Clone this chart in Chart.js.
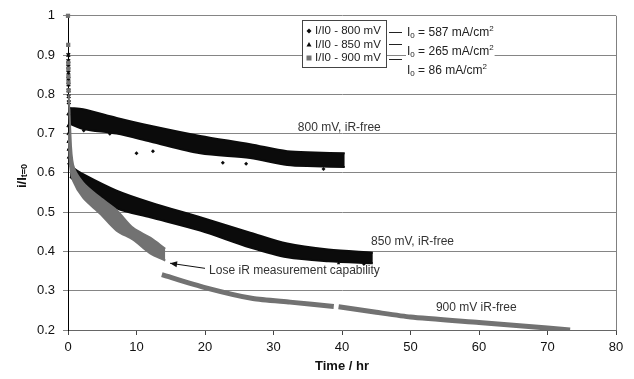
<!DOCTYPE html>
<html><head><meta charset="utf-8">
<script src="https://cdn.jsdelivr.net/npm/chart.js@4.4.1/dist/chart.umd.min.js"></script>
<style>html,body{margin:0;padding:0;background:#fff}</style>
</head><body>
<canvas id="c" width="634" height="379"></canvas>
<script>
// ---- data ----
const xTickValues = [0, 10, 20, 30, 40, 50, 60, 70, 80];
const yTickValues = [0.2, 0.3, 0.4, 0.5, 0.6, 0.7, 0.8, 0.9, 1];

// 800 mV band (upper / lower edge of dense scatter)
const time800 = [0.3, 2.2, 7.1, 12, 19.3, 26.6, 32, 36, 40.4];
const upper800 = [0.765, 0.762, 0.74, 0.72, 0.694, 0.673, 0.655, 0.652, 0.65];
const lower800 = [0.725, 0.712, 0.70, 0.68, 0.65, 0.638, 0.62, 0.617, 0.615];
const startTime800 = [0.05, 0.05, 0.05, 0.06, 0.06, 0.07, 0.08, 0.1, 0.12];
const start800 = [0.90, 0.885, 0.87, 0.855, 0.84, 0.825, 0.81, 0.795, 0.78];
const outlierTime800 = [2.3, 6.1, 10, 12.4, 22.6, 26, 37.3];
const outlier800 = [0.708, 0.70, 0.65, 0.655, 0.626, 0.623, 0.61];

// 850 mV band
const time850 = [0.3, 2.2, 7.1, 12, 19.3, 26.6, 32, 38, 44.5];
const upper850 = [0.618, 0.597, 0.555, 0.525, 0.487, 0.448, 0.42, 0.405, 0.397];
const lower850 = [0.59, 0.562, 0.51, 0.487, 0.453, 0.41, 0.385, 0.375, 0.37];
const startTime850 = [0.08, 0.08, 0.1, 0.1, 0.12, 0.15, 0.2];
const start850 = [0.75, 0.72, 0.70, 0.68, 0.66, 0.64, 0.625];
const outlierTime850 = [6.1, 39.5, 43.2];
const outlier850 = [0.504, 0.37, 0.368];

// 900 mV, before losing iR measurement (band) and after (thin line)
const time900a = [0.1, 0.3, 0.75, 2.2, 4.7, 7.1, 9.5, 12, 14.2];
const upper900a = [0.80, 0.72, 0.62, 0.575, 0.537, 0.505, 0.46, 0.435, 0.407];
const lower900a = [0.70, 0.62, 0.58, 0.537, 0.496, 0.453, 0.43, 0.395, 0.377];
const startTime900 = [0, 0.03, 0.04, 0.05, 0.06, 0.07, 0.09];
const start900 = [1.0, 0.926, 0.88, 0.865, 0.845, 0.83, 0.81];
const time900b = [13.7, 20, 27, 32.4, 38.8, 39.1, 39.5, 45, 50, 60, 70, 73.3];
const value900b = [0.341, 0.308, 0.28, 0.271, 0.26, null, 0.259, 0.245, 0.233, 0.219, 0.205, 0.2];

const seriesNames = ['I/I0 - 800 mV', 'I/I0 - 850 mV', 'I/I0 - 900 mV'];
const currentLabels = ['587', '265', '86'];

const BLACK = '#0b0b0b', GREY = '#727272';
const pts = (xs, ys) => xs.map((x, i) => ({x, y: ys[i]}));

const bandPair = (xs, hi, lo, color, ord) => [
  {data: pts(xs, hi), showLine: true, borderColor: color, borderWidth: 2, pointRadius: 0, fill: false, order: ord, tension: 0.3},
  {data: pts(xs, lo), showLine: true, borderColor: color, borderWidth: 2, pointRadius: 0, backgroundColor: color, fill: '-1', order: ord, tension: 0.3}
];

const datasets = [
  ...bandPair(time800, upper800, lower800, BLACK, 3),
  ...bandPair(time850, upper850, lower850, BLACK, 3),
  ...bandPair(time900a, upper900a, lower900a, GREY, 1),
  {data: pts(time900b, value900b), showLine: true, spanGaps: false, borderColor: GREY, borderWidth: 5, pointRadius: 0, fill: false, order: 1, tension: 0.2},
  {data: pts(startTime800, start800), showLine: false, clip: false, pointStyle: 'crossRot', pointRadius: 2.5, borderWidth: 1.5, borderColor: BLACK, backgroundColor: BLACK, order: 2},
  {data: pts(outlierTime800, outlier800), showLine: false, pointStyle: 'rectRot', pointRadius: 2, borderWidth: 0, backgroundColor: BLACK, order: 2},
  {data: pts(startTime850, start850), showLine: false, clip: false, pointStyle: 'triangle', pointRadius: 2, borderWidth: 1, borderColor: BLACK, backgroundColor: BLACK, order: 2},
  {data: pts(outlierTime850, outlier850), showLine: false, pointStyle: 'triangle', pointRadius: 2, borderWidth: 0, backgroundColor: BLACK, order: 2},
  {data: pts(startTime900, start900), showLine: false, clip: false, pointStyle: 'rect', pointRadius: 3, borderWidth: 0, borderColor: GREY, backgroundColor: GREY, order: 0}
];

const FONT = '"Liberation Sans", Arial, sans-serif';

const annotations = [
  {text: '800 mV, iR-free', x: 39.6, y: 0.716},
  {text: '850 mV, iR-free', x: 50.3, y: 0.425},
  {text: '900 mV iR-free', x: 59.6, y: 0.258}
];
const loseLabel = {text: 'Lose iR measurement capability', x: 20.6, y: 0.352, arrowFrom: [20.0, 0.357], arrowTo: [14.9, 0.370]};

function drawSubText(ctx, parts, x, y, align) {
  let w = 0;
  parts.forEach(p => { ctx.font = (p.bold ? 'bold ' : '') + p.size + 'px ' + FONT; w += ctx.measureText(p.t).width; });
  let cx = align === 'center' ? x - w / 2 : x;
  ctx.textAlign = 'left';
  parts.forEach(p => {
    ctx.font = (p.bold ? 'bold ' : '') + p.size + 'px ' + FONT;
    ctx.fillText(p.t, cx, y + (p.dy || 0));
    cx += ctx.measureText(p.t).width;
  });
  return w;
}

const decor = {
  id: 'decor',
  beforeDatasetsDraw(chart) {
    const {ctx, chartArea: a} = chart;
    ctx.save();
    ctx.strokeStyle = '#808080'; ctx.lineWidth = 1;
    ctx.beginPath(); ctx.moveTo(Math.round(a.right) + 0.5, a.top); ctx.lineTo(Math.round(a.right) + 0.5, a.bottom); ctx.stroke();
    ctx.restore();
  },
  afterDraw(chart) {
    const {ctx, scales: {x, y}} = chart;
    ctx.save();
    ctx.fillStyle = '#333'; ctx.textBaseline = 'middle';
    ctx.font = '12px ' + FONT; ctx.textAlign = 'center';
    annotations.forEach(an => ctx.fillText(an.text, x.getPixelForValue(an.x), y.getPixelForValue(an.y)));
    ctx.textAlign = 'left';
    ctx.fillText(loseLabel.text, x.getPixelForValue(loseLabel.x), y.getPixelForValue(loseLabel.y));
    const ax0 = x.getPixelForValue(loseLabel.arrowFrom[0]), ay0 = y.getPixelForValue(loseLabel.arrowFrom[1]);
    const ax1 = x.getPixelForValue(loseLabel.arrowTo[0]), ay1 = y.getPixelForValue(loseLabel.arrowTo[1]);
    ctx.strokeStyle = '#111'; ctx.fillStyle = '#111'; ctx.lineWidth = 1;
    ctx.beginPath(); ctx.moveTo(ax0, ay0); ctx.lineTo(ax1, ay1); ctx.stroke();
    const ang = Math.atan2(ay1 - ay0, ax1 - ax0);
    ctx.beginPath(); ctx.moveTo(ax1, ay1);
    ctx.lineTo(ax1 - 7 * Math.cos(ang) + 3 * Math.sin(ang), ay1 - 7 * Math.sin(ang) - 3 * Math.cos(ang));
    ctx.lineTo(ax1 - 7 * Math.cos(ang) - 3 * Math.sin(ang), ay1 - 7 * Math.sin(ang) + 3 * Math.cos(ang));
    ctx.closePath(); ctx.fill();

    // y-axis title with subscript
    ctx.save();
    ctx.translate(22, 176); ctx.rotate(-Math.PI / 2);
    ctx.fillStyle = '#111';
    drawSubText(ctx, [{t: 'i/I', size: 13, bold: true}, {t: 't=0', size: 9, bold: true, dy: 3}], 0, 0, 'center');
    ctx.restore();

    // legend box
    const lx = 302.5, ly = 20.5, lw = 84, lh = 47;
    ctx.fillStyle = '#fff'; ctx.fillRect(lx, ly, lw, lh);
    ctx.strokeStyle = '#444'; ctx.lineWidth = 1; ctx.strokeRect(lx, ly, lw, lh);
    const rows = [31, 44.5, 58];
    ctx.font = '11.5px ' + FONT; ctx.fillStyle = '#222'; ctx.textAlign = 'left';
    rows.forEach((ry, i) => ctx.fillText(seriesNames[i], 315, ry));
    ctx.fillStyle = BLACK;
    ctx.beginPath(); ctx.moveTo(309, rows[0] - 2.5); ctx.lineTo(311.5, rows[0]); ctx.lineTo(309, rows[0] + 2.5); ctx.lineTo(306.5, rows[0]); ctx.closePath(); ctx.fill();
    ctx.beginPath(); ctx.moveTo(309, rows[1] - 2.5); ctx.lineTo(311.5, rows[1] + 2); ctx.lineTo(306.5, rows[1] + 2); ctx.closePath(); ctx.fill();
    ctx.fillStyle = GREY; ctx.fillRect(306.5, rows[2] - 2.5, 5, 5);
    ctx.strokeStyle = '#222';
    [32, 44, 59].forEach(cy => { ctx.beginPath(); ctx.moveTo(389, cy + 0.5); ctx.lineTo(402, cy + 0.5); ctx.stroke(); });
    const cys = [33, 52, 70.5];
    cys.forEach((cy, i) => {
      const parts = [{t: 'I', size: 12}, {t: '0', size: 8, dy: 3}, {t: ' = ' + currentLabels[i] + ' mA/cm', size: 12}, {t: '2', size: 8, dy: -4}];
      let w = 0; parts.forEach(p => { ctx.font = p.size + 'px ' + FONT; w += ctx.measureText(p.t).width; });
      ctx.fillStyle = '#fff'; ctx.fillRect(406, cy - 8, w + 2, 16);
      ctx.fillStyle = '#222';
      drawSubText(ctx, parts, 407, cy, 'left');
    });
    ctx.restore();
  }
};

new Chart(document.getElementById('c'), {
  type: 'scatter',
  data: {datasets},
  options: {
    responsive: false, animation: false, devicePixelRatio: 1,
    layout: {padding: {top: 14, right: 18, left: 0, bottom: 0}},
    plugins: {legend: {display: false}, tooltip: {enabled: false}},
    scales: {
      x: {
        type: 'linear', min: 0, max: 80,
        afterBuildTicks: s => { s.ticks = xTickValues.map(v => ({value: v})); },
        afterFit: s => { s.height = 49; },
        ticks: {color: '#111', font: {size: 13, family: FONT}, padding: 5, maxRotation: 0},
        grid: {drawOnChartArea: false, drawTicks: true, tickLength: 5, color: '#444'},
        border: {color: '#666', width: 1},
        title: {display: true, text: 'Time / hr', color: '#111', font: {size: 13, weight: 'bold', family: FONT}, padding: {top: 0, bottom: 5}}
      },
      y: {
        min: 0.2, max: 1,
        afterBuildTicks: s => { s.ticks = yTickValues.map(v => ({value: v})); },
        afterFit: s => { s.width = 68; },
        ticks: {color: '#111', font: {size: 13, family: FONT}, padding: 8, callback: v => String(+v.toFixed(1))},
        grid: {color: '#858585', tickLength: 5, drawTicks: true, lineWidth: 1},
        border: {color: '#000', width: 1}
      }
    }
  },
  plugins: [decor]
});
</script>
</body></html>
